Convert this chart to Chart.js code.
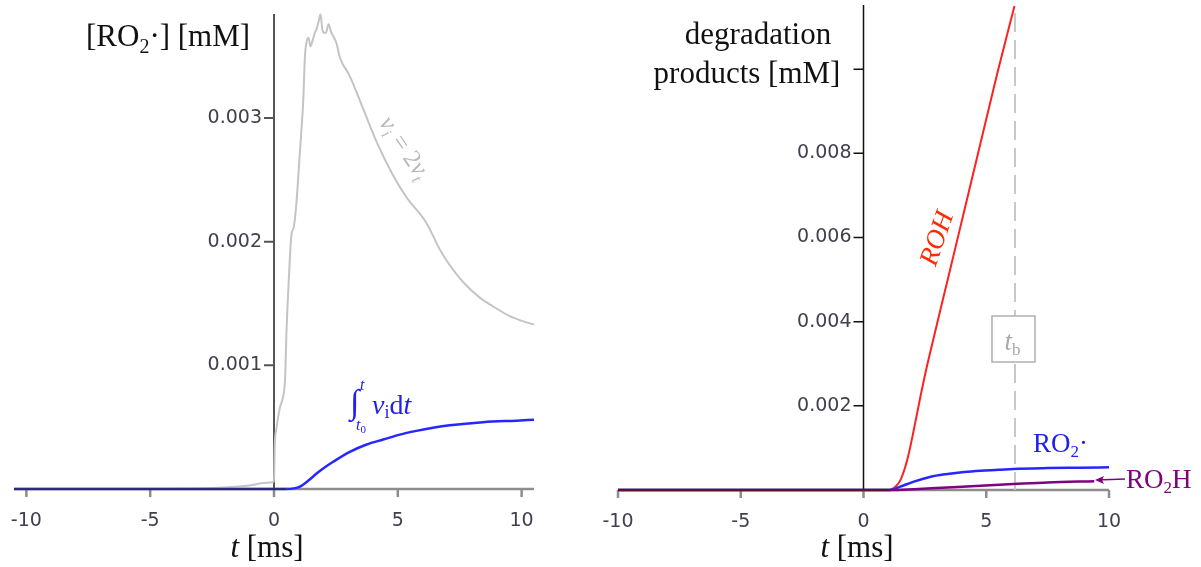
<!DOCTYPE html>
<html>
<head>
<meta charset="utf-8">
<script src="https://cdn.jsdelivr.net/npm/chart.js@4/dist/chart.umd.min.js"></script>
<style>
  html, body { margin: 0; padding: 0; background: #fff; }
  #wrap { position: relative; width: 1201px; height: 567px; overflow: hidden; }
  canvas { position: absolute; top: 0; }
  #leftChart { left: 0; }
  #rightChart { left: 600px; }
</style>
</head>
<body>
<div id="wrap">
  <canvas id="leftChart" width="600" height="567"></canvas>
  <canvas id="rightChart" width="601" height="567"></canvas>
</div>
<script>
// ticks
const xTicks = [-10, -5, 0, 5, 10];
const leftYTicks = [0.001, 0.002, 0.003];
const leftYLabels = ['0.001', '0.002', '0.003'];
const rightYTicks = [0.002, 0.004, 0.006, 0.008, 0.010];
const rightYLabels = ['0.002', '0.004', '0.006', '0.008', ''];
const tB = 6.17; // breakdown time, ms

// left panel, [t in ms, RO2. in mM]
const grayRate = [
  [-10.5, 0], [-5, 0], [-3, 0.000004], [-2, 0.000012], [-1, 0.000028], [-0.3, 0.00005],
  [0, 0.00006], [0.03, 0.00035], [0.1, 0.00049], [0.24, 0.00066], [0.36, 0.00074],
  [0.45, 0.0009], [0.5, 0.00125], [0.6, 0.0017], [0.7, 0.00205], [0.8, 0.00212],
  [0.9, 0.0023], [1.05, 0.00274], [1.18, 0.00314], [1.25, 0.0035], [1.32, 0.00362],
  [1.4, 0.00365], [1.47, 0.00358], [1.55, 0.00362], [1.65, 0.00369], [1.72, 0.00372],
  [1.8, 0.00378], [1.88, 0.00384], [1.95, 0.00372], [2.02, 0.00369], [2.1, 0.00369],
  [2.2, 0.00376], [2.3, 0.0037], [2.53, 0.0036], [2.66, 0.00349], [3.06, 0.00334],
  [3.59, 0.00308], [4.14, 0.00281], [4.8, 0.00254], [5.35, 0.00236], [6.16, 0.00215],
  [6.69, 0.00194], [7.1, 0.00181], [7.7, 0.00166], [8.3, 0.00155], [8.9, 0.00147],
  [9.5, 0.0014], [10.0, 0.00136], [10.5, 0.00133]
];
const blueIntegral = [
  [-10.5, 0], [0, 0], [0.5, 0], [0.8, 0.000005], [1.05, 0.00002], [1.4, 0.00007],
  [1.72, 0.000125], [2.0, 0.000168], [2.39, 0.00022], [3.06, 0.0003], [3.74, 0.00036],
  [4.41, 0.0004], [5.08, 0.00044], [5.75, 0.00047], [6.42, 0.000495], [7.1, 0.000515],
  [8.44, 0.00054], [9.79, 0.000553], [10.5, 0.00056]
];

// right panel, [t in ms, concentration in mM]
const rohCurve = [
  [-10, 0], [0, 0], [1.0, 0], [1.1, 0.00001], [1.3, 0.00008], [1.51, 0.00024],
  [1.78, 0.00071], [2.05, 0.00143], [2.32, 0.00222], [2.6, 0.00298], [2.86, 0.00362],
  [3.14, 0.0043], [3.41, 0.00495], [4.09, 0.0066], [4.77, 0.00825], [5.45, 0.0099],
  [6.15, 0.0115]
];
const ro2Curve = [
  [-10, 0], [0, 0], [1.1, 0], [1.5, 0.00008], [2.05, 0.0002], [2.7, 0.00031],
  [3.41, 0.00038], [4.1, 0.00043], [4.77, 0.00046], [5.5, 0.00048], [6.1, 0.0005],
  [7.5, 0.00052], [8.8, 0.00053], [10, 0.00054]
];
const ro2hCurve = [
  [-10, 0], [0, 0], [1.1, 0], [2.05, 0.00002], [3.41, 0.00006], [4.77, 0.0001],
  [6.1, 0.00014], [7.5, 0.00018], [9.4, 0.00021]
];

const SERIF = '"Liberation Serif", "Times New Roman", serif';
const TICK_FONT = '19px "DejaVu Sans", sans-serif';

function toXY(pairs) {
  return pairs.map(p => ({ x: p[0], y: p[1] }));
}

// draws text made of pieces: [text, font, dy]
function richText(ctx, parts, x, y, align) {
  let w = 0;
  parts.forEach(p => { ctx.font = p[1]; w += ctx.measureText(p[0]).width; });
  let cx = align === 'center' ? x - w / 2 : align === 'right' ? x - w : x;
  ctx.textAlign = 'left';
  ctx.textBaseline = 'alphabetic';
  parts.forEach(p => {
    ctx.font = p[1];
    ctx.fillText(p[0], cx, y + (p[2] || 0));
    cx += ctx.measureText(p[0]).width;
  });
}

function axesPlugin(cfg) {
  return {
    id: 'axesPlugin',
    beforeDatasetsDraw(chart) {
      const { ctx, scales: { x, y } } = chart;
      const x0 = x.getPixelForValue(0);
      const y0 = y.getPixelForValue(0);
      ctx.save();
      // x axis
      ctx.strokeStyle = '#8d8d8d';
      ctx.lineWidth = 2.5;
      ctx.beginPath();
      ctx.moveTo(x.getPixelForValue(cfg.xFrom), y0);
      ctx.lineTo(x.getPixelForValue(cfg.xTo), y0);
      xTicks.forEach(v => {
        const px = x.getPixelForValue(v);
        ctx.moveTo(px, y0);
        ctx.lineTo(px, y0 + 8);
      });
      ctx.stroke();
      // y axis
      ctx.strokeStyle = cfg.yColor;
      ctx.lineWidth = cfg.yWidth;
      ctx.beginPath();
      ctx.moveTo(x0, y.top + cfg.yTopOffset);
      ctx.lineTo(x0, y0);
      cfg.yTicks.forEach(v => {
        const py = y.getPixelForValue(v);
        ctx.moveTo(x0 - 10, py);
        ctx.lineTo(x0, py);
      });
      ctx.stroke();
      // tick labels
      ctx.fillStyle = '#40404e';
      ctx.font = TICK_FONT;
      ctx.textAlign = 'center';
      ctx.textBaseline = 'middle';
      xTicks.forEach(v => ctx.fillText(String(v), x.getPixelForValue(v), y0 + 32));
      ctx.textAlign = 'right';
      cfg.yTicks.forEach((v, i) => ctx.fillText(cfg.yLabels[i], x0 - 12, y.getPixelForValue(v)));
      if (cfg.under) cfg.under(chart);
      ctx.restore();
    },
    afterDatasetsDraw(chart) {
      chart.ctx.save();
      cfg.notes(chart);
      chart.ctx.restore();
    }
  };
}

function lineSet(pairs, color, width, extra) {
  return Object.assign({
    data: toXY(pairs),
    borderColor: color,
    borderWidth: width,
    showLine: true,
    pointRadius: 0,
    cubicInterpolationMode: 'monotone',
    clip: 6
  }, extra || {});
}

const baseOptions = (pad, xMin, xMax, yMax) => ({
  responsive: false,
  animation: false,
  events: [],
  layout: { padding: pad },
  scales: {
    x: { type: 'linear', min: xMin, max: xMax, display: false },
    y: { type: 'linear', min: 0, max: yMax, display: false }
  },
  plugins: { legend: { display: false }, tooltip: { enabled: false } }
});

// ---------- left chart ----------
new Chart(document.getElementById('leftChart'), {
  type: 'scatter',
  data: {
    datasets: [
      lineSet(blueIntegral, '#2626ff', 2.5, {
        order: 1,
        segment: { borderColor: c => (c.p0.parsed.y === 0 && c.p1.parsed.y === 0) ? '#2a2a80' : undefined }
      }),
      lineSet(grayRate, '#c4c4c4', 2, { order: 2 })
    ]
  },
  options: baseOptions({ left: 14, right: 66, top: 13, bottom: 78 }, -10.5, 10.5, 0.00385),
  plugins: [axesPlugin({
    xFrom: -10.5, xTo: 10.5, yColor: '#555', yWidth: 2, yTopOffset: 1,
    yTicks: leftYTicks, yLabels: leftYLabels,
    notes(chart) {
      const ctx = chart.ctx;
      ctx.fillStyle = '#111';
      richText(ctx, [['[RO', '31px ' + SERIF], ['2', '20px ' + SERIF, 7], ['·] [mM]', '31px ' + SERIF]], 86, 46, 'left');
      richText(ctx, [['t', 'italic 31px ' + SERIF], [' [ms]', '31px ' + SERIF]], 267, 557, 'center');
      // integral label
      ctx.fillStyle = '#2020f0';
      richText(ctx, [['\u222B', '34px ' + SERIF]], 350, 413, 'left');
      richText(ctx, [['t', 'italic 16px ' + SERIF]], 360, 390, 'left');
      richText(ctx, [['t', 'italic 16px ' + SERIF], ['0', '11px ' + SERIF, 3]], 356, 430, 'left');
      richText(ctx, [['v', 'italic 28px ' + SERIF], ['i', '18px ' + SERIF, 4], ['d', '28px ' + SERIF], ['t', 'italic 28px ' + SERIF]], 372, 414, 'left');
      // rotated rate label
      ctx.fillStyle = '#b8b8b8';
      ctx.translate(404, 148);
      ctx.rotate(56 * Math.PI / 180);
      richText(ctx, [['v', 'italic 25px ' + SERIF], ['i', 'italic 16px ' + SERIF, 5], [' = 2', '25px ' + SERIF], ['v', 'italic 25px ' + SERIF], ['t', 'italic 16px ' + SERIF, 5]], 0, 7, 'center');
    }
  })]
});

// ---------- right chart ----------
new Chart(document.getElementById('rightChart'), {
  type: 'scatter',
  data: {
    datasets: [
      lineSet(ro2hCurve, '#800080', 2.5, {
        order: 1,
        segment: { borderColor: c => (c.p0.parsed.y === 0 && c.p1.parsed.y === 0) ? '#5e1030' : undefined }
      }),
      lineSet(ro2Curve, '#2626ff', 2.5, { order: 2 }),
      lineSet(rohCurve, '#ff2020', 2, { order: 3 })
    ]
  },
  options: baseOptions({ left: 18, right: 92, top: 6, bottom: 77 }, -10, 10, 0.0115),
  plugins: [axesPlugin({
    xFrom: -10, xTo: 10, yColor: '#111', yWidth: 1.5, yTopOffset: -1,
    yTicks: rightYTicks, yLabels: rightYLabels,
    under(chart) {
      const { ctx, scales: { x, y } } = chart;
      const px = x.getPixelForValue(tB);
      ctx.strokeStyle = '#c8c8c8';
      ctx.lineWidth = 2;
      ctx.setLineDash([19, 8]);
      ctx.beginPath();
      ctx.moveTo(px, y.top + 7);
      ctx.lineTo(px, y.getPixelForValue(0));
      ctx.stroke();
      ctx.setLineDash([]);
    },
    notes(chart) {
      const { ctx, scales: { x } } = chart;
      const px = x.getPixelForValue(tB);
      ctx.fillStyle = '#111';
      richText(ctx, [['degradation', '31px ' + SERIF]], 158, 44, 'center');
      richText(ctx, [['products [mM]', '31px ' + SERIF]], 147, 83, 'center');
      richText(ctx, [['t', 'italic 31px ' + SERIF], [' [ms]', '31px ' + SERIF]], 257, 557, 'center');
      // t_b box
      ctx.fillStyle = '#fff';
      ctx.strokeStyle = '#b0b0b0';
      ctx.lineWidth = 1.5;
      ctx.fillRect(px - 23, 316, 43, 46);
      ctx.strokeRect(px - 23, 316, 43, 46);
      ctx.fillStyle = '#a8a8a8';
      richText(ctx, [['t', 'italic 27px ' + SERIF], ['b', '17px ' + SERIF, 5]], px - 2.5, 350, 'center');
      // RO2. label
      ctx.fillStyle = '#2020f0';
      richText(ctx, [['RO', '27px ' + SERIF], ['2', '17px ' + SERIF, 5], ['·', '27px ' + SERIF]], 433, 452, 'left');
      // RO2H label with arrow
      ctx.fillStyle = '#800080';
      ctx.strokeStyle = '#800080';
      ctx.lineWidth = 1.5;
      ctx.beginPath();
      ctx.moveTo(497, 480);
      ctx.lineTo(525, 479);
      ctx.stroke();
      ctx.beginPath();
      ctx.moveTo(495, 480);
      ctx.lineTo(504, 476);
      ctx.lineTo(502, 480);
      ctx.lineTo(504, 484);
      ctx.closePath();
      ctx.fill();
      richText(ctx, [['RO', '27px ' + SERIF], ['2', '17px ' + SERIF, 5], ['H', '27px ' + SERIF]], 526, 488, 'left');
      // ROH label
      ctx.fillStyle = '#ff2a00';
      ctx.translate(336, 238);
      ctx.rotate(-71 * Math.PI / 180);
      richText(ctx, [['ROH', 'italic 27px ' + SERIF]], 0, 9, 'center');
    }
  })]
});
</script>
</body>
</html>
